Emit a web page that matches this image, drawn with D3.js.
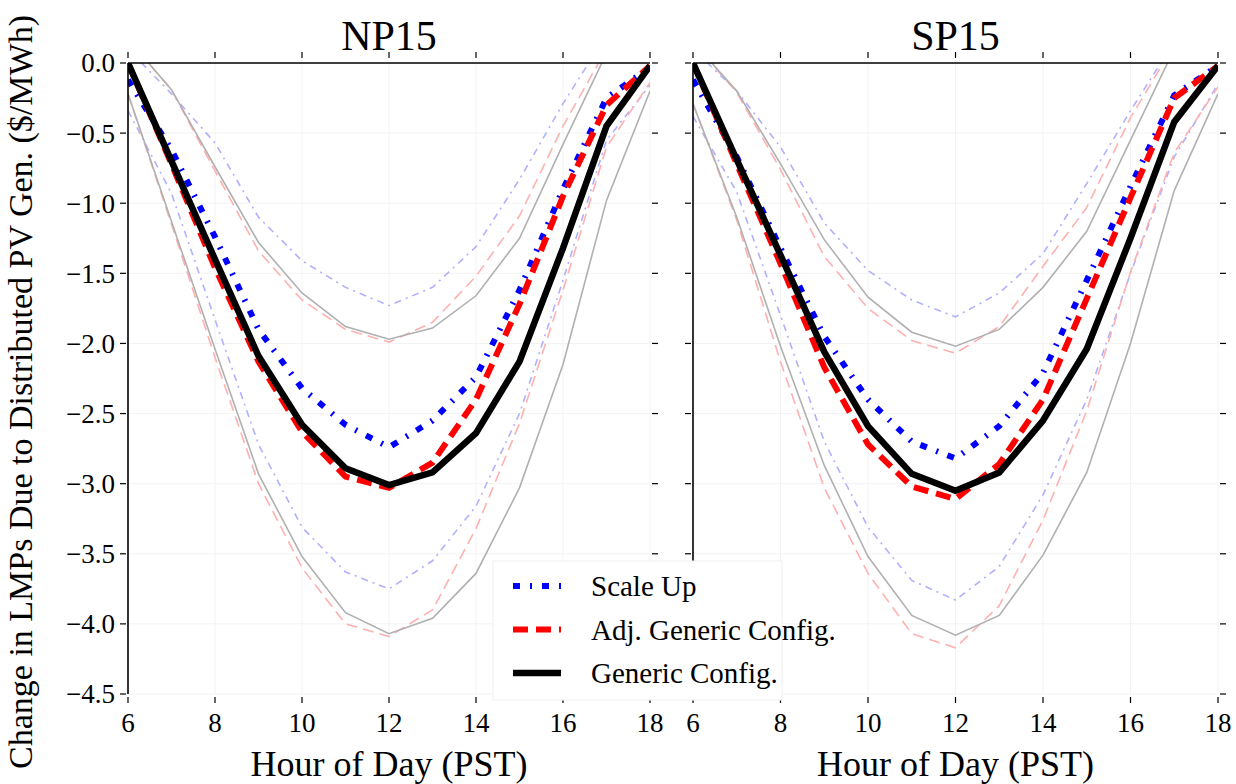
<!DOCTYPE html>
<html>
<head>
<meta charset="utf-8">
<style>
body { margin: 0; background: #fff; }
text { font-family: "Liberation Serif", "DejaVu Serif", serif; fill: #000; }
</style>
</head>
<body>
<svg width="1236" height="784"></svg>
<script src="https://d3js.org/d3.v7.min.js"></script>
<script>
// hours of the day shown on the x axis
var hours = [6, 7, 8, 9, 10, 11, 12, 13, 14, 15, 16, 17, 18];
var xTicks = [6, 8, 10, 12, 14, 16, 18];
var yTicks = [0, -0.5, -1, -1.5, -2, -2.5, -3, -3.5, -4, -4.5];
var regions = ["NP15", "SP15"];
var seriesNames = ["Scale Up", "Adj. Generic Config.", "Generic Config."];

// NP15
var npScale   = [-0.12, -0.62, -1.24, -1.90, -2.32, -2.58, -2.74, -2.55, -2.24, -1.62, -0.90, -0.25, -0.03];
var npScaleHi = [0.10, -0.22, -0.57, -1.10, -1.41, -1.60, -1.73, -1.60, -1.31, -0.83, -0.29, 0.20, 0.25];
var npScaleLo = [-0.34, -0.93, -1.83, -2.72, -3.31, -3.63, -3.75, -3.55, -3.16, -2.50, -1.55, -0.55, -0.16];
var npAdj     = [0, -0.72, -1.46, -2.13, -2.63, -2.95, -3.03, -2.85, -2.40, -1.72, -0.95, -0.30, -0.02];
var npAdjHi   = [0.17, -0.19, -0.77, -1.34, -1.69, -1.90, -1.99, -1.85, -1.52, -1.09, -0.45, 0.10, 0.20];
var npAdjLo   = [-0.22, -1.15, -2.10, -3.00, -3.60, -4.00, -4.09, -3.90, -3.32, -2.57, -1.62, -0.60, -0.14];
var npGen     = [0, -0.70, -1.40, -2.09, -2.58, -2.89, -3.01, -2.92, -2.64, -2.13, -1.32, -0.45, -0.02];
var npGenHi   = [0.17, -0.19, -0.74, -1.28, -1.64, -1.88, -1.97, -1.89, -1.66, -1.25, -0.58, 0.07, 0.15];
var npGenLo   = [-0.22, -1.13, -2.04, -2.93, -3.52, -3.92, -4.07, -3.96, -3.64, -3.03, -2.15, -0.98, -0.20];

// SP15
var spScale   = [-0.12, -0.67, -1.32, -1.95, -2.40, -2.70, -2.82, -2.59, -2.21, -1.55, -0.88, -0.23, -0.02];
var spScaleHi = [0.10, -0.20, -0.60, -1.14, -1.48, -1.69, -1.81, -1.64, -1.36, -0.86, -0.34, 0.15, 0.20];
var spScaleLo = [-0.38, -0.92, -1.80, -2.70, -3.31, -3.69, -3.83, -3.59, -3.08, -2.40, -1.50, -0.67, -0.15];
var spAdj     = [0, -0.72, -1.43, -2.17, -2.72, -3.02, -3.11, -2.86, -2.40, -1.68, -0.96, -0.25, -0.02];
var spAdjHi   = [0.15, -0.21, -0.76, -1.38, -1.75, -1.98, -2.07, -1.88, -1.45, -1.03, -0.39, 0.13, 0.20];
var spAdjLo   = [-0.29, -1.12, -2.13, -3.03, -3.64, -4.07, -4.17, -3.87, -3.26, -2.48, -1.49, -0.64, -0.17];
var spGen     = [0, -0.69, -1.37, -2.06, -2.59, -2.93, -3.05, -2.92, -2.55, -2.04, -1.25, -0.42, -0.02];
var spGenHi   = [0.15, -0.20, -0.72, -1.26, -1.67, -1.92, -2.02, -1.90, -1.60, -1.20, -0.55, 0.10, 0.15];
var spGenLo   = [-0.29, -1.10, -2.02, -2.87, -3.52, -3.94, -4.08, -3.94, -3.51, -2.92, -2.00, -0.91, -0.22];

var styles = {
  scale:   {color: "#0000ff", width: 6, dash: "7,10,2,10"},
  adj:     {color: "#ff0000", width: 6, dash: "15,8"},
  gen:     {color: "#000000", width: 6.5, dash: null},
  scaleBd: {color: "#b0b0ff", width: 1.6, dash: "7,5,2,5"},
  adjBd:   {color: "#ffb0b0", width: 1.6, dash: "11,6"},
  genBd:   {color: "#b0b0b0", width: 1.6, dash: null}
};

var panels = [
  {name: regions[0], x0: 128, x1: 650, yTicksLabels: true,
   lines: [["scaleBd", npScaleHi], ["scaleBd", npScaleLo], ["adjBd", npAdjHi], ["adjBd", npAdjLo],
           ["genBd", npGenHi], ["genBd", npGenLo], ["scale", npScale], ["adj", npAdj], ["gen", npGen]]},
  {name: regions[1], x0: 693, x1: 1218, yTicksLabels: false,
   lines: [["scaleBd", spScaleHi], ["scaleBd", spScaleLo], ["adjBd", spAdjHi], ["adjBd", spAdjLo],
           ["genBd", spGenHi], ["genBd", spGenLo], ["scale", spScale], ["adj", spAdj], ["gen", spGen]]}
];

var svg = d3.select("svg");
var yTop = 63, yBot = 694;
var y = d3.scaleLinear().domain([0, -4.5]).range([yTop, yBot]);
var fmt = d3.format(".1f");

panels.forEach(function(p, pi) {
  var x = d3.scaleLinear().domain([6, 18]).range([p.x0, p.x1]);
  var g = svg.append("g");

  g.append("clipPath").attr("id", "clip" + pi)
    .append("rect").attr("x", p.x0).attr("y", yTop).attr("width", p.x1 - p.x0).attr("height", yBot - yTop);

  // faint grid
  g.append("g").selectAll("line").data(xTicks).enter().append("line")
    .attr("x1", function(d) { return x(d); }).attr("x2", function(d) { return x(d); })
    .attr("y1", yTop).attr("y2", yBot).attr("stroke", "#f3f3f3").attr("stroke-width", 1);
  g.append("g").selectAll("line").data(yTicks).enter().append("line")
    .attr("x1", p.x0).attr("x2", p.x1)
    .attr("y1", function(d) { return y(d); }).attr("y2", function(d) { return y(d); })
    .attr("stroke", "#f3f3f3").attr("stroke-width", 1);

  var line = d3.line().x(function(d, i) { return x(hours[i]); }).y(function(d) { return y(d); });
  var lg = g.append("g").attr("clip-path", "url(#clip" + pi + ")");
  p.lines.forEach(function(l) {
    var s = styles[l[0]];
    lg.append("path").datum(l[1])
      .attr("d", line)
      .attr("fill", "none")
      .attr("stroke", s.color)
      .attr("stroke-width", s.width)
      .attr("stroke-dasharray", s.dash)
      .attr("stroke-linejoin", "miter");
  });

  // spines: top and left only
  g.append("line").attr("x1", p.x0).attr("x2", p.x1).attr("y1", yTop).attr("y2", yTop)
    .attr("stroke", "#000").attr("stroke-width", 1.6);
  g.append("line").attr("x1", p.x0).attr("x2", p.x0).attr("y1", yTop).attr("y2", yBot)
    .attr("stroke", "#000").attr("stroke-width", 1.6);

  // ticks
  var tk = g.append("g").attr("stroke", "#000").attr("stroke-width", 1.2);
  xTicks.forEach(function(t) {
    tk.append("line").attr("x1", x(t)).attr("x2", x(t)).attr("y1", 52).attr("y2", 58);
    tk.append("line").attr("x1", x(t)).attr("x2", x(t)).attr("y1", 697).attr("y2", 703);
  });
  yTicks.forEach(function(t) {
    tk.append("line").attr("x1", p.x0 - 8).attr("x2", p.x0 - 2).attr("y1", y(t)).attr("y2", y(t));
    tk.append("line").attr("x1", p.x1 + 2).attr("x2", p.x1 + 8).attr("y1", y(t)).attr("y2", y(t));
  });

  g.append("g").selectAll("text").data(xTicks).enter().append("text")
    .attr("x", function(d) { return x(d); }).attr("y", 732)
    .attr("text-anchor", "middle").attr("font-size", 27)
    .text(function(d) { return d; });

  if (p.yTicksLabels) {
    g.append("g").selectAll("text").data(yTicks).enter().append("text")
      .attr("x", p.x0 - 13).attr("y", function(d) { return y(d); }).attr("dy", "0.35em")
      .attr("text-anchor", "end").attr("font-size", 27)
      .text(function(d) { return fmt(d); });
  }

  g.append("text").attr("x", (p.x0 + p.x1) / 2).attr("y", 50)
    .attr("text-anchor", "middle").attr("font-size", 42).text(p.name);
  g.append("text").attr("x", (p.x0 + p.x1) / 2).attr("y", 776)
    .attr("text-anchor", "middle").attr("font-size", 36).text("Hour of Day (PST)");
});

svg.append("text")
  .attr("transform", "translate(32,392) rotate(-90)")
  .attr("text-anchor", "middle").attr("font-size", 34)
  .text("Change in LMPs Due to Distributed PV Gen. ($/MWh)");

// legend
var legend = svg.append("g");
legend.append("rect").attr("x", 493).attr("y", 561).attr("width", 289).attr("height", 139)
  .attr("fill", "#fff").attr("stroke", "#f0f0f0");
var legKeys = ["scale", "adj", "gen"];
seriesNames.forEach(function(n, i) {
  var s = styles[legKeys[i]];
  var cy = 586 + i * 43.5;
  legend.append("line").attr("x1", 513).attr("x2", 561).attr("y1", cy).attr("y2", cy)
    .attr("stroke", s.color).attr("stroke-width", s.width).attr("stroke-dasharray", s.dash);
  legend.append("text").attr("x", 591).attr("y", cy).attr("dy", "0.35em")
    .attr("font-size", 29).text(n);
});
</script>
</body>
</html>
